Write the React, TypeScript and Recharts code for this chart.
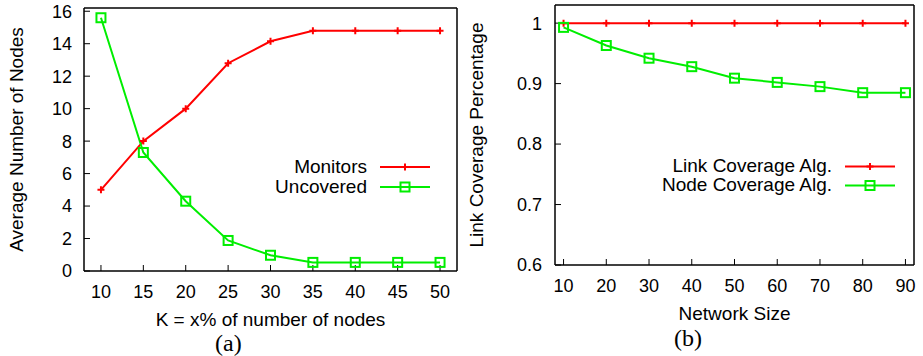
import { LineChart, Line, XAxis, YAxis, Legend } from 'recharts';

const kPercent = [10, 15, 20, 25, 30, 35, 40, 45, 50];
const monitors = [5, 8, 10, 12.8, 14.15, 14.8, 14.8, 14.8, 14.8];
const uncovered = [15.6, 7.3, 4.3, 1.88, 0.97, 0.53, 0.53, 0.53, 0.53];

const networkSize = [10, 20, 30, 40, 50, 60, 70, 80, 90];
const linkAlg = [1, 1, 1, 1, 1, 1, 1, 1, 1];
const nodeAlg = [0.993, 0.963, 0.942, 0.928, 0.909, 0.902, 0.895, 0.885, 0.885];

const kTicks = [10, 15, 20, 25, 30, 35, 40, 45, 50];
const nodeTicks = [0, 2, 4, 6, 8, 10, 12, 14, 16];
const sizeTicks = [10, 20, 30, 40, 50, 60, 70, 80, 90];
const coverTicks = [0.6, 0.7, 0.8, 0.9, 1];

const RED = '#ff0000';
const GREEN = '#00ee00';
const FONT = '"Liberation Sans", Arial, Helvetica, sans-serif';

const dataA = kPercent.map((k, i) => ({ k, monitors: monitors[i], uncovered: uncovered[i] }));
const dataB = networkSize.map((n, i) => ({ n, link: linkAlg[i], node: nodeAlg[i] }));

const tickStyle = { fill: '#000', fontSize: 18, fontFamily: FONT };
const labelStyle = { fill: '#000', fontSize: 19, fontFamily: FONT };

function plus(cx: number, cy: number, color: string, key?: any) {
  return (
    <path key={key} d={`M${cx - 3.5},${cy}H${cx + 3.5}M${cx},${cy - 3.5}V${cy + 3.5}`} stroke={color} strokeWidth={2} fill="none" />
  );
}

function square(cx: number, cy: number, color: string, key?: any) {
  return <rect key={key} x={cx - 4.5} y={cy - 4.5} width={9} height={9} stroke={color} strokeWidth={2} fill="none" />;
}

const plusDot = (p: any) => plus(p.cx, p.cy, RED, p.index);
const squareDot = (p: any) => square(p.cx, p.cy, GREEN, p.index);

function KeyBox({ rows, rowH }: { rows: { label: string; color: string; mark: 'plus' | 'square' }[]; rowH: number }) {
  return (
    <div style={{ fontFamily: FONT, fontSize: 19, color: '#000' }}>
      {rows.map((r) => (
        <div key={r.label} style={{ display: 'flex', justifyContent: 'flex-end', alignItems: 'center', height: rowH }}>
          <span style={{ whiteSpace: 'nowrap' }}>{r.label}</span>
          <svg width={50} height={rowH} style={{ marginLeft: 13 }}>
            <line x1={0} x2={50} y1={rowH / 2} y2={rowH / 2} stroke={r.color} strokeWidth={2} />
            {r.mark === 'plus' ? plus(25, rowH / 2, r.color) : square(25, rowH / 2, r.color)}
          </svg>
        </div>
      ))}
    </div>
  );
}

const captionStyle = {
  position: 'absolute' as const,
  fontFamily: '"Liberation Serif", "DejaVu Serif", serif',
  fontSize: 24,
  lineHeight: '20px',
};

export default function App() {
  return (
    <div style={{ position: 'absolute', left: 0, top: 0, width: 923, height: 356, background: '#fff' }}>
      <div style={{ position: 'absolute', left: 0, top: 0 }}>
        <LineChart width={470} height={356} data={dataA} margin={{ top: 7, right: 12, left: 0, bottom: 25 }}>
          <XAxis
            dataKey="k"
            type="number"
            domain={[8, 52]}
            ticks={kTicks}
            height={60}
            tick={tickStyle}
            tickSize={-6}
            tickMargin={20}
            stroke="#000"
            axisLine={{ stroke: '#000', strokeWidth: 1.5 }}
            label={{ value: 'K = x% of number of nodes', position: 'insideBottom', offset: 5, style: labelStyle }}
          />
          <XAxis xAxisId="top" orientation="top" type="number" domain={[8, 52]} ticks={kTicks} height={1} tick={false} tickSize={-6} stroke="#000" axisLine={{ stroke: '#000', strokeWidth: 1.5 }} />
          <YAxis
            type="number"
            domain={[0, 16.2]}
            ticks={nodeTicks}
            width={84}
            tick={tickStyle}
            tickSize={-6}
            tickMargin={18}
            stroke="#000"
            axisLine={{ stroke: '#000', strokeWidth: 1.5 }}
            allowDataOverflow
            label={{ value: 'Average Number of Nodes', angle: -90, position: 'insideLeft', offset: 16, style: { ...labelStyle, textAnchor: 'middle' } }}
          />
          <YAxis yAxisId="right" orientation="right" type="number" domain={[0, 16.2]} ticks={nodeTicks} width={1} tick={false} tickSize={-6} stroke="#000" axisLine={{ stroke: '#000', strokeWidth: 1.5 }} allowDataOverflow />
          <Legend
            layout="vertical"
            align="center"
            verticalAlign="middle"
            wrapperStyle={{ left: 180, top: 157, width: 250 }}
            content={() => (
              <KeyBox
                rowH={20}
                rows={[
                  { label: 'Monitors', color: RED, mark: 'plus' },
                  { label: 'Uncovered', color: GREEN, mark: 'square' },
                ]}
              />
            )}
          />
          <Line type="linear" dataKey="monitors" name="Monitors" stroke={RED} strokeWidth={2} dot={plusDot} isAnimationActive={false} />
          <Line type="linear" dataKey="uncovered" name="Uncovered" stroke={GREEN} strokeWidth={2} dot={squareDot} isAnimationActive={false} />
        </LineChart>
      </div>

      <div style={{ position: 'absolute', left: 460, top: 0 }}>
        <LineChart width={463} height={356} data={dataB} margin={{ top: 4, right: 8, left: 0, bottom: 31 }}>
          <XAxis
            dataKey="n"
            type="number"
            domain={[8, 92]}
            ticks={sizeTicks}
            height={60}
            tick={tickStyle}
            tickSize={-6}
            tickMargin={20}
            stroke="#000"
            axisLine={{ stroke: '#000', strokeWidth: 1.5 }}
            label={{ value: 'Network Size', position: 'insideBottom', offset: 5, style: labelStyle }}
          />
          <XAxis xAxisId="top" orientation="top" type="number" domain={[8, 92]} ticks={sizeTicks} height={1} tick={false} tickSize={-6} stroke="#000" axisLine={{ stroke: '#000', strokeWidth: 1.5 }} />
          <YAxis
            type="number"
            domain={[0.6, 1.03]}
            ticks={coverTicks}
            width={95}
            tick={tickStyle}
            tickSize={-6}
            tickMargin={19}
            tickFormatter={(v: number) => String(+v.toFixed(1))}
            stroke="#000"
            axisLine={{ stroke: '#000', strokeWidth: 1.5 }}
            allowDataOverflow
            label={{ value: 'Link Coverage Percentage', angle: -90, position: 'insideLeft', offset: 16, style: { ...labelStyle, textAnchor: 'middle' } }}
          />
          <YAxis yAxisId="right" orientation="right" type="number" domain={[0.6, 1.03]} ticks={coverTicks} width={1} tick={false} tickSize={-6} stroke="#000" axisLine={{ stroke: '#000', strokeWidth: 1.5 }} allowDataOverflow />
          <Legend
            layout="vertical"
            align="center"
            verticalAlign="middle"
            wrapperStyle={{ left: 100, top: 156.5, width: 335 }}
            content={() => (
              <KeyBox
                rowH={19}
                rows={[
                  { label: 'Link Coverage Alg.', color: RED, mark: 'plus' },
                  { label: 'Node Coverage Alg.', color: GREEN, mark: 'square' },
                ]}
              />
            )}
          />
          <Line type="linear" dataKey="link" name="Link Coverage Alg." stroke={RED} strokeWidth={2} dot={plusDot} isAnimationActive={false} />
          <Line type="linear" dataKey="node" name="Node Coverage Alg." stroke={GREEN} strokeWidth={2} dot={squareDot} isAnimationActive={false} />
        </LineChart>
      </div>

      <div style={{ ...captionStyle, left: 215, top: 333 }}>(a)</div>
      <div style={{ ...captionStyle, left: 674, top: 328 }}>(b)</div>
    </div>
  );
}
